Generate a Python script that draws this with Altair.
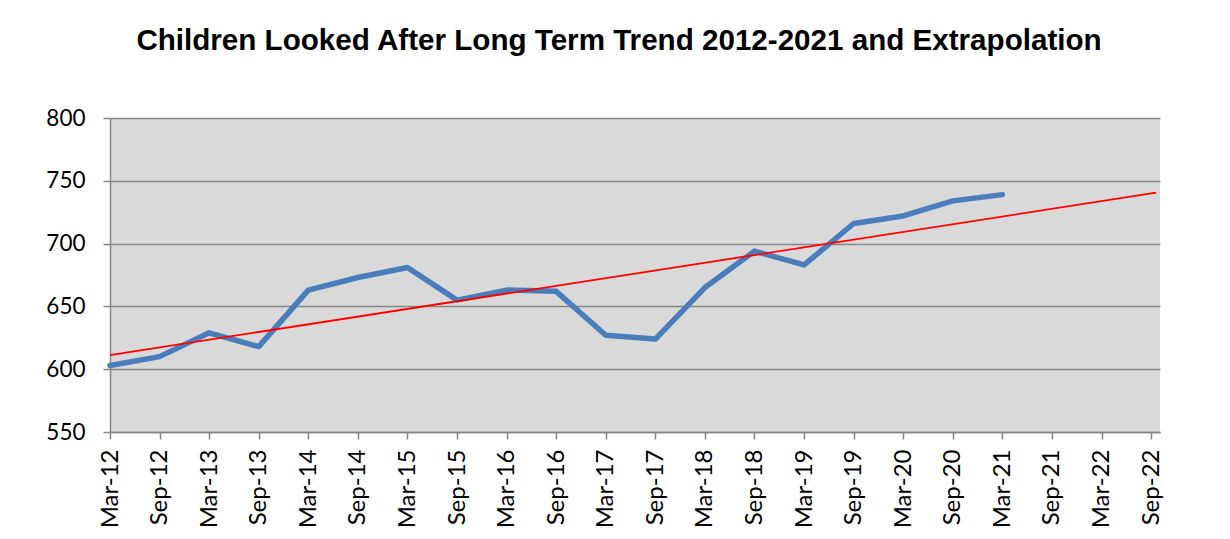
import altair as alt
import pandas as pd

categories = ["Mar-12", "Sep-12", "Mar-13", "Sep-13", "Mar-14", "Sep-14", "Mar-15",
              "Sep-15", "Mar-16", "Sep-16", "Mar-17", "Sep-17", "Mar-18", "Sep-18",
              "Mar-19", "Sep-19", "Mar-20", "Sep-20", "Mar-21", "Sep-21", "Mar-22",
              "Sep-22"]
values = [603, 610, 629, 618, 663, 673, 681, 655, 663, 662, 627, 624, 665, 694,
          683, 716, 722, 734, 739]
y_ticks = [550, 600, 650, 700, 750, 800]
trend_extent = [0, 21.1]

df = pd.DataFrame({
    "idx": list(range(len(values))),
    "label": categories[:len(values)],
    "value": values,
})

label_expr = "[" + ",".join('"%s"' % c for c in categories) + "][datum.value]"

x_enc = alt.X(
    "idx:Q",
    scale=alt.Scale(domain=[0, 21.18], nice=False, zero=False),
    axis=alt.Axis(
        values=list(range(len(categories))),
        labelExpr=label_expr,
        labelAngle=270,
        labelAlign="right",
        labelBaseline="middle",
        labelFont="Lato",
        labelFontSize=24,
        labelColor="black",
        labelPadding=10,
        tickSize=7,
        tickWidth=1.5,
        tickColor="#868686",
        domainColor="#868686",
        domainWidth=1.5,
        grid=False,
        title=None,
        labelOverlap=False,
    ),
)
y_enc = alt.Y(
    "value:Q",
    scale=alt.Scale(domain=[550, 800], nice=False, zero=False),
    axis=alt.Axis(
        values=y_ticks,
        labelFont="Lato",
        labelFontSize=22.5,
        labelColor="black",
        labelPadding=18,
        tickSize=7,
        tickWidth=1.5,
        tickColor="#868686",
        domainColor="#868686",
        domainWidth=1.5,
        grid=True,
        gridColor="#868686",
        gridWidth=1.5,
        title=None,
    ),
)

base = alt.Chart(df)

data_line = base.mark_line(
    color="#4a7ebb", strokeWidth=5.5, strokeCap="round", strokeJoin="round"
).encode(x=x_enc, y=y_enc)

trend_line = base.transform_regression(
    "idx", "value", extent=trend_extent
).mark_line(color="#ff0000", strokeWidth=1.8).encode(x=x_enc, y=y_enc)

chart = alt.layer(data_line, trend_line).properties(
    width=1050,
    height=314,
    background="white",
    padding={"left": 37, "top": 18, "right": 5, "bottom": 0},
    title=alt.TitleParams(
        "Children Looked After Long Term Trend 2012-2021 and Extrapolation",
        font="Liberation Sans",
        fontSize=29.6,
        fontWeight="bold",
        color="black",
        anchor="middle",
        offset=50,
        dx=-16,
    ),
).configure_view(fill="#d9d9d9", strokeWidth=0)

chart.save("out.html", embed_options={"renderer": "svg", "actions": False})
